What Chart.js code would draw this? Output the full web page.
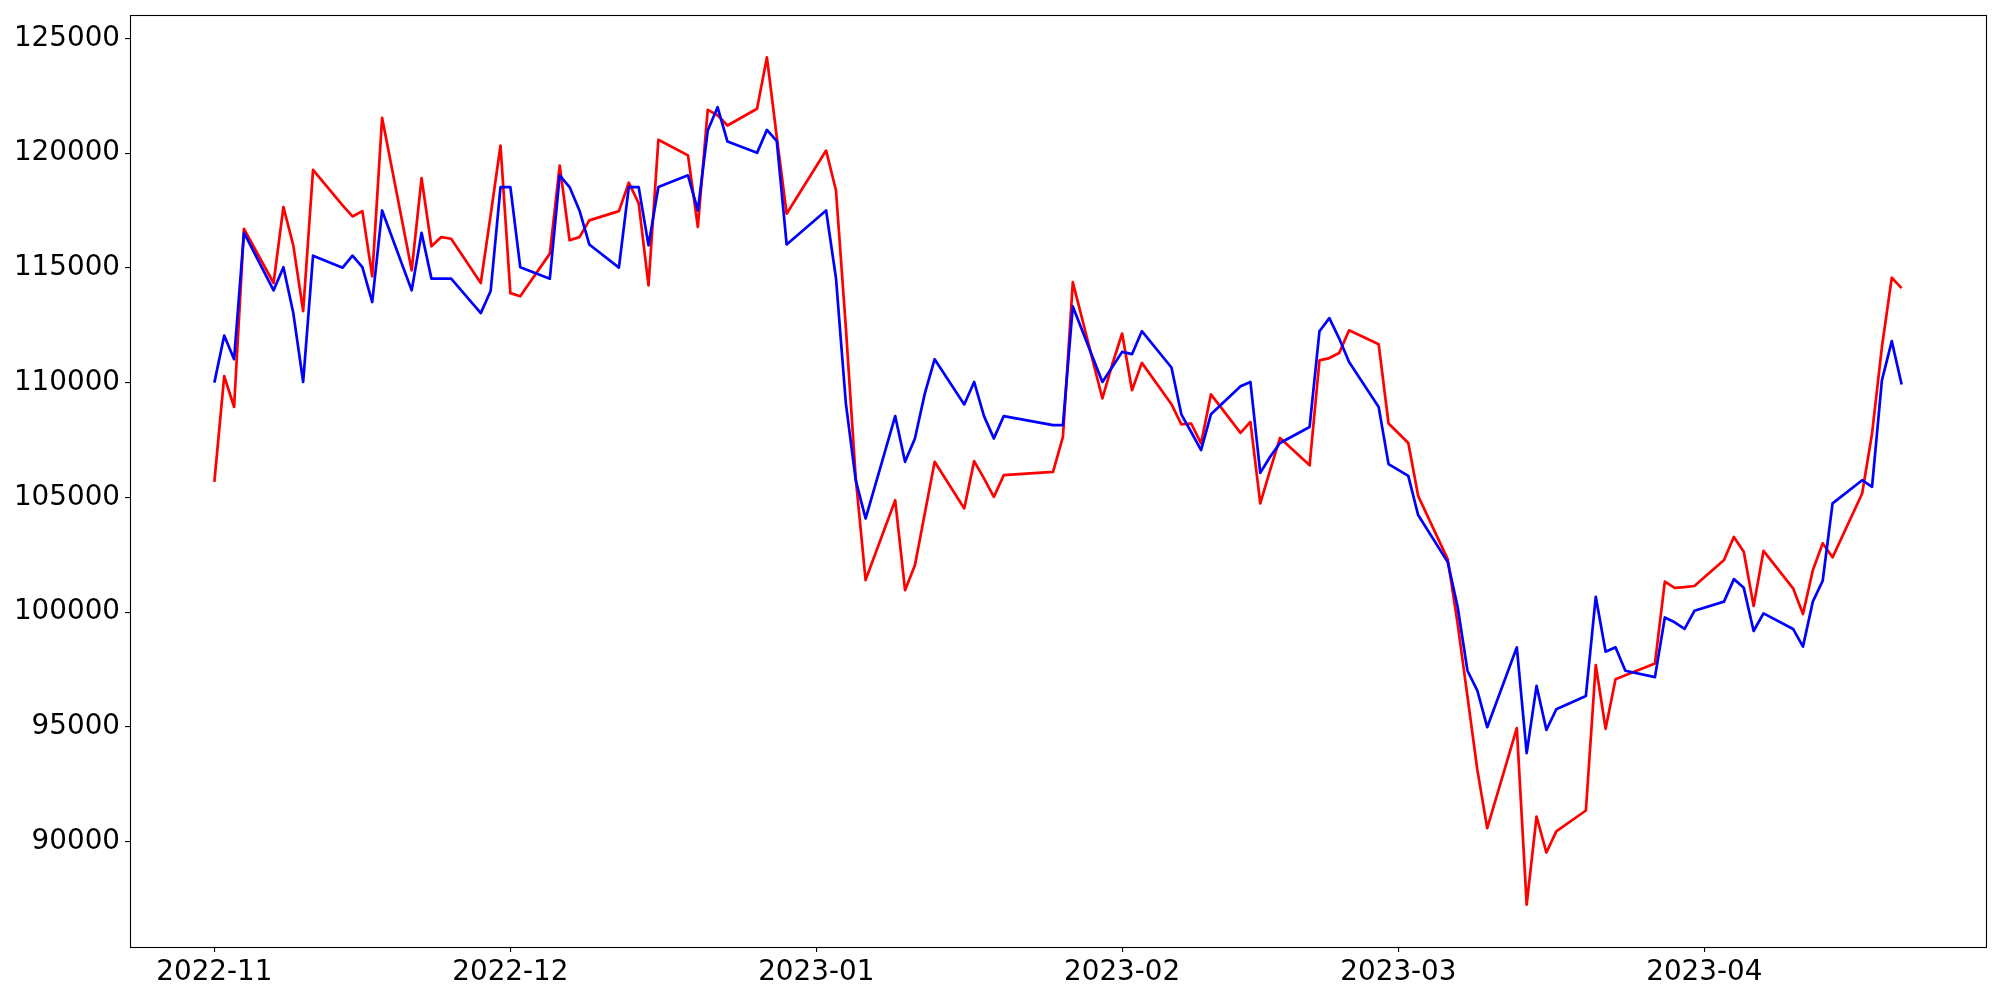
<!DOCTYPE html>
<html>
<head>
<meta charset="utf-8">
<script src="https://cdn.jsdelivr.net/npm/chart.js@4.4.0/dist/chart.umd.min.js"></script>
<style>
  html, body { margin: 0; padding: 0; background: #fff; }
  #wrap { width: 2000px; height: 1000px; }
</style>
</head>
<body>
<div id="wrap"><canvas id="chart" width="2000" height="1000"></canvas></div>
<script>
"use strict";

// trading days (KRX calendar)
const dates = [
    "2022-11-01","2022-11-02","2022-11-03","2022-11-04","2022-11-07","2022-11-08","2022-11-09","2022-11-10","2022-11-11",
    "2022-11-14","2022-11-15","2022-11-16","2022-11-17","2022-11-18","2022-11-21","2022-11-22","2022-11-23","2022-11-24",
    "2022-11-25","2022-11-28","2022-11-29","2022-11-30",
    "2022-12-01","2022-12-02","2022-12-05","2022-12-06","2022-12-07","2022-12-08","2022-12-09","2022-12-12","2022-12-13",
    "2022-12-14","2022-12-15","2022-12-16","2022-12-19","2022-12-20","2022-12-21","2022-12-22","2022-12-23","2022-12-26",
    "2022-12-27","2022-12-28","2022-12-29",
    "2023-01-02","2023-01-03","2023-01-04","2023-01-05","2023-01-06","2023-01-09","2023-01-10","2023-01-11","2023-01-12",
    "2023-01-13","2023-01-16","2023-01-17","2023-01-18","2023-01-19","2023-01-20","2023-01-25","2023-01-26","2023-01-27",
    "2023-01-30","2023-01-31",
    "2023-02-01","2023-02-02","2023-02-03","2023-02-06","2023-02-07","2023-02-08","2023-02-09","2023-02-10","2023-02-13",
    "2023-02-14","2023-02-15","2023-02-16","2023-02-17","2023-02-20","2023-02-21","2023-02-22","2023-02-23","2023-02-24",
    "2023-02-27","2023-02-28",
    "2023-03-02","2023-03-03","2023-03-06","2023-03-07","2023-03-08","2023-03-09","2023-03-10","2023-03-13","2023-03-14",
    "2023-03-15","2023-03-16","2023-03-17","2023-03-20","2023-03-21","2023-03-22","2023-03-23","2023-03-24","2023-03-27",
    "2023-03-28","2023-03-29","2023-03-30","2023-03-31",
    "2023-04-03","2023-04-04","2023-04-05","2023-04-06","2023-04-07","2023-04-10","2023-04-11","2023-04-12","2023-04-13",
    "2023-04-14","2023-04-17","2023-04-18","2023-04-19","2023-04-20","2023-04-21"
];

const redValues = [
    105680, 110280, 108940, 116700, 114340, 117650, 115980, 113110, 119270,
    117720, 117240, 117470, 114630, 121540, 114890, 118910, 115940, 116340,
    116270, 114340, 117300, 120330,
    113900, 113760, 115620, 119460, 116200, 116340, 117070, 117470, 118710,
    117820, 114240, 120580, 119900, 116780, 121880, 121650, 121200, 121930,
    124170, 120700, 117360,
    120110, 118370, 112400, 105850, 101400, 104880, 100960, 102050, 104300,
    106550, 104520, 106580, 105830, 105020, 105970, 106110, 107640, 114380,
    109310, 110800,
    112140, 109670, 110860, 109060, 108180, 108220, 107350, 109490, 107810,
    108290, 104740, 106190, 107590, 106400, 110970, 111070, 111290, 112280,
    111670, 108220,
    107370, 105070, 102300, 99500, 96320, 93130, 90590, 94950, 87260,
    91100, 89530, 90450, 91360, 97700, 94920, 97080, 97250, 97770,
    101330, 101060, 101090, 101140,
    102270, 103280, 102630, 100270, 102670, 101040, 99920, 101830, 103000,
    102390, 105170, 107780, 111550, 114570, 114120
];

const blueValues = [
    110000, 112050, 111020, 116530, 114020, 115030, 113030, 110030, 115530,
    115010, 115530, 115030, 113510, 117500, 114020, 116530, 114530, 114530,
    114530, 113030, 113990, 118520,
    118520, 115030, 114530, 119030, 118520, 117500, 116020, 115010, 118520,
    118520, 115980, 118520, 119030, 117500, 120980, 122000, 120500, 120010,
    121010, 120520, 116020,
    117500, 114550, 109100, 105750, 104080, 108540, 106550, 107570, 109520,
    111020, 109050, 110030, 108540, 107570, 108540, 108150, 108150, 113320,
    110030, 110680,
    111340, 111240, 112240, 110660, 108620, 107850, 107060, 108620, 109840,
    110030, 106070, 106770, 107370, 108070, 112240, 112810, 111920, 110900,
    108940, 106450,
    105940, 104230, 102180, 100240, 97450, 96580, 94990, 98470, 93860,
    96790, 94870, 95770, 96350, 100670, 98280, 98470, 97450, 97170,
    99770, 99560, 99270, 100060,
    100460, 101440, 101060, 99180, 99950, 99270, 98500, 100460, 101370,
    104740, 105750, 105460, 110100, 111810, 109920
];

const monthTicks = ["2022-11-01", "2022-12-01", "2023-01-01", "2023-02-01", "2023-03-01", "2023-04-01"];
const yTicks = [90000, 95000, 100000, 105000, 110000, 115000, 120000, 125000];

const DAY = 86400000;
const base = Date.parse(dates[0]);
function dayOf(s) {
    return Math.round((Date.parse(s) - base) / DAY);
}

const xs = dates.map(dayOf);
const xFirst = xs[0], xLast = xs[xs.length - 1];
const xPad = (xLast - xFirst) * 0.05;
const allVals = redValues.concat(blueValues);
const yLo = Math.min(...allVals), yHi = Math.max(...allVals);
const yPad = (yHi - yLo) * 0.05;

const monthLabel = {};
monthTicks.forEach(function (m) { monthLabel[dayOf(m)] = m.slice(0, 7); });

function points(vals) {
    return vals.map(function (v, i) { return { x: xs[i], y: v }; });
}

const FONT = { family: "'DejaVu Sans', sans-serif", size: 27.8 };

// matplotlib-like frame round the plot area
const frame = {
    id: "frame",
    afterDraw(chart) {
        const a = chart.chartArea;
        const ctx = chart.ctx;
        ctx.save();
        ctx.strokeStyle = "#000";
        ctx.lineWidth = 1.1;
        ctx.strokeRect(Math.round(a.left) + 0.5, Math.round(a.top) + 0.5,
                       Math.round(a.right - a.left), Math.round(a.bottom - a.top));
        ctx.restore();
    }
};

new Chart(document.getElementById("chart").getContext("2d"), {
    type: "line",
    data: {
        datasets: [
            {
                data: points(blueValues),
                borderColor: "#0000ff",
                borderWidth: 2.7,
                pointRadius: 0,
                tension: 0,
                fill: false,
                borderJoinStyle: "round",
                order: 0
            },
            {
                data: points(redValues),
                borderColor: "#ff0000",
                borderWidth: 2.7,
                pointRadius: 0,
                tension: 0,
                fill: false,
                borderJoinStyle: "round",
                order: 1
            }
        ]
    },
    options: {
        responsive: false,
        animation: false,
        events: [],
        layout: { padding: { top: 15, right: 14, left: 0, bottom: 0 } },
        plugins: { legend: { display: false }, tooltip: { enabled: false } },
        scales: {
            x: {
                type: "linear",
                min: xFirst - xPad,
                max: xLast + xPad,
                afterBuildTicks(scale) {
                    scale.ticks = monthTicks.map(function (m) { return { value: dayOf(m) }; });
                },
                afterFit(scale) {
                    scale.height = 53;
                    scale.paddingLeft = 0;
                    scale.paddingRight = 0;
                },
                grid: { display: true, drawOnChartArea: false, drawTicks: true, tickLength: 5, color: "#000", lineWidth: 1.1 },
                border: { display: false },
                ticks: {
                    autoSkip: false,
                    maxRotation: 0,
                    padding: 4,
                    color: "#000",
                    font: FONT,
                    callback(value) { return monthLabel[value]; }
                }
            },
            y: {
                type: "linear",
                min: yLo - yPad,
                max: yHi + yPad,
                afterBuildTicks(scale) {
                    scale.ticks = yTicks.map(function (v) { return { value: v }; });
                },
                afterFit(scale) {
                    scale.width = 130;
                    scale.paddingTop = 0;
                    scale.paddingBottom = 0;
                },
                grid: { display: true, drawOnChartArea: false, drawTicks: true, tickLength: 5, color: "#000", lineWidth: 1.1 },
                border: { display: false },
                ticks: {
                    padding: 5,
                    color: "#000",
                    font: FONT,
                    callback(value) { return String(value); }
                }
            }
        }
    },
    plugins: [frame]
});
</script>
</body>
</html>
